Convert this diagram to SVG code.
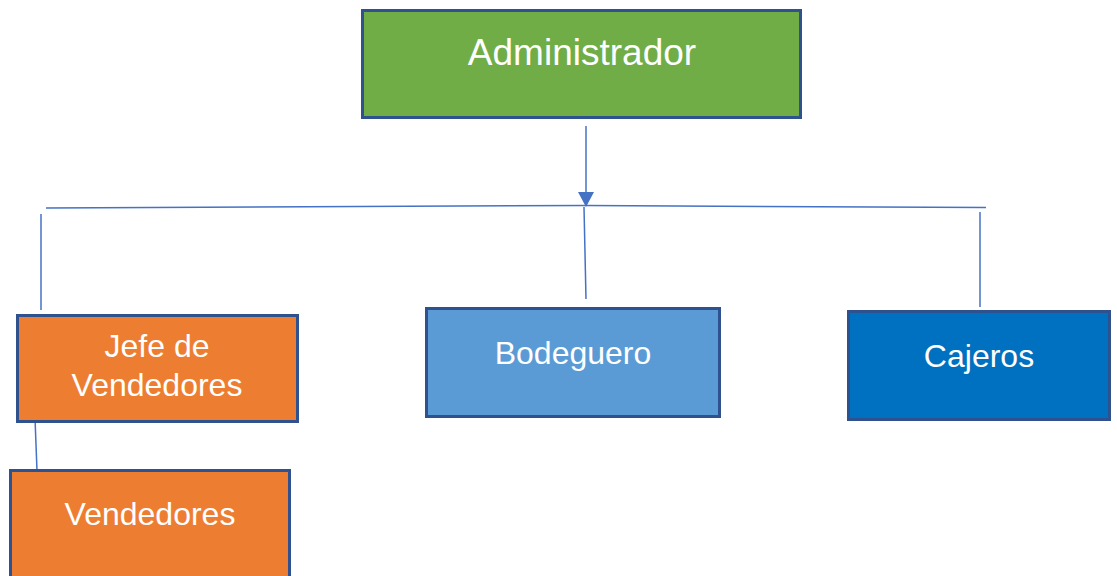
<svg xmlns="http://www.w3.org/2000/svg" width="1117" height="576" viewBox="0 0 1117 576">
<style>
.box{stroke:#2F528F;stroke-width:3}
.t{font-family:"Liberation Sans",Arial,sans-serif;fill:#fff;text-anchor:middle}
.c{stroke:#4472C4;stroke-width:1.5;fill:none}
</style>
<rect width="1117" height="576" fill="#fff"/>
<g id="connectors">
<line class="c" x1="586" y1="126" x2="586" y2="192"/>
<path d="M578,192 L594,192 L586,207 z" fill="#4472C4"/>
<polyline class="c" points="46,208 586,205.5 986,207.5"/>
<line class="c" x1="41" y1="214" x2="41" y2="310"/>
<line class="c" x1="584" y1="207" x2="586" y2="299"/>
<line class="c" x1="980" y1="212" x2="980" y2="307"/>
<line class="c" x1="35" y1="418" x2="37" y2="471"/>
</g>
<g id="admin">
<rect class="box" x="362.5" y="10.5" width="438" height="107" fill="#70AD47"/>
<text class="t" x="582" y="65" font-size="37">Administrador</text>
</g>
<g id="jefe">
<rect class="box" x="17.5" y="315.5" width="280" height="106" fill="#ED7D31"/>
<text class="t" x="157" y="357" font-size="32">Jefe de</text>
<text class="t" x="157" y="396" font-size="32">Vendedores</text>
</g>
<g id="vendedores">
<rect class="box" x="10.5" y="470.5" width="279" height="110" fill="#ED7D31"/>
<text class="t" x="150" y="525" font-size="32">Vendedores</text>
</g>
<g id="bodeguero">
<rect class="box" x="426.5" y="308.5" width="293" height="108" fill="#5B9BD5"/>
<text class="t" x="573" y="364" font-size="32">Bodeguero</text>
</g>
<g id="cajeros">
<rect class="box" x="848.5" y="311.5" width="261" height="108" fill="#0070C0"/>
<text class="t" x="979" y="367" font-size="32">Cajeros</text>
</g>
</svg>
